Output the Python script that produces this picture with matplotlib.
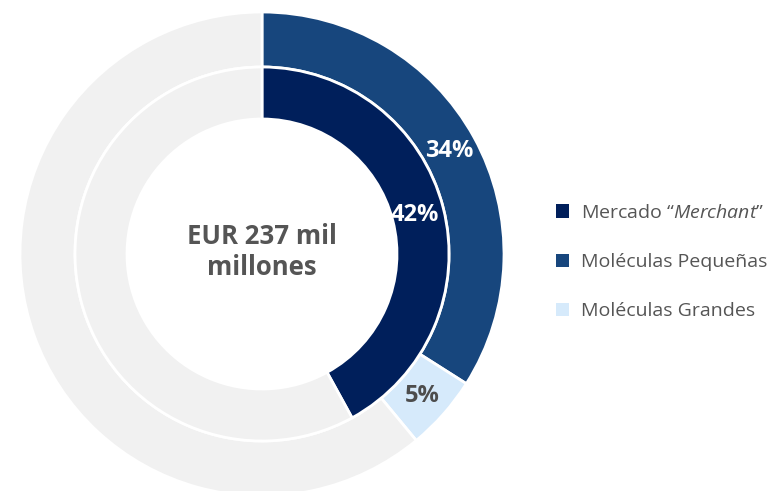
import matplotlib
matplotlib.use("Agg")
import matplotlib.pyplot as plt
from matplotlib.patches import Patch

plt.rcParams['font.family'] = ['Open Sans', 'DejaVu Sans']
plt.rcParams['mathtext.fontset'] = 'custom'
plt.rcParams['mathtext.it'] = 'Open Sans:italic'
plt.rcParams['mathtext.rm'] = 'Open Sans'

# data
outer_labels = ['Moléculas Pequeñas', 'Moléculas Grandes', 'resto']
outer_values = [34, 5, 61]
inner_labels = ['Mercado “Merchant”', 'resto']
inner_values = [42, 58]
center_text = 'EUR 237 mil\nmillones'

legend_labels = ['Mercado “$\\it{Merchant}$”', 'Moléculas Pequeñas', 'Moléculas Grandes']

navy = '#001f5b'
blue = '#17467d'
light = '#d6eafb'
grey = '#f1f1f1'
txt = '#555555'

fig = plt.figure(figsize=(7.75, 4.91), dpi=100)
ax = fig.add_axes([0, 0, 1, 1])

cx, cy = 262, 491 - 254
r_out, r_mid, r_in = 242, 187, 135

def pct(v):
    return '' if v > 50 else '%d%%' % round(v)

w1, t1, a1 = ax.pie(outer_values, radius=r_out, center=(cx, cy), startangle=90,
                    counterclock=False, colors=[blue, light, grey],
                    wedgeprops=dict(width=r_out - r_mid, edgecolor='white', linewidth=2),
                    autopct=pct, pctdistance=0.885, frame=True)
w2, t2, a2 = ax.pie(inner_values, radius=r_mid, center=(cx, cy), startangle=90,
                    counterclock=False, colors=[navy, grey],
                    wedgeprops=dict(width=r_mid - r_in, edgecolor='white', linewidth=2),
                    autopct=pct, pctdistance=0.845, frame=True)
ax.set_xlim(0, 775)
ax.set_ylim(0, 491)
ax.set_aspect('equal')
ax.axis('off')

for t, c in zip(a1, ['white', '#4d4d4d', 'white']):
    t.set_color(c)
    t.set_fontsize(17)
    t.set_fontweight('bold')
for t in a2:
    t.set_color('white')
    t.set_fontsize(17)
    t.set_fontweight('bold')

ax.text(cx, cy + 2, center_text, ha='center', va='center', fontsize=18.5,
        fontweight='bold', color=txt, linespacing=1.2)

handles = [Patch(facecolor=c, edgecolor='none') for c in [navy, blue, light]]
ax.legend(handles, legend_labels, loc='center left', bbox_to_anchor=(0.717, 0.466),
          frameon=False, fontsize=14, labelcolor=txt, handlelength=0.7,
          handleheight=0.7, handletextpad=0.6, labelspacing=1.6,
          borderaxespad=0, borderpad=0)

fig.savefig('out.png', dpi=100)
